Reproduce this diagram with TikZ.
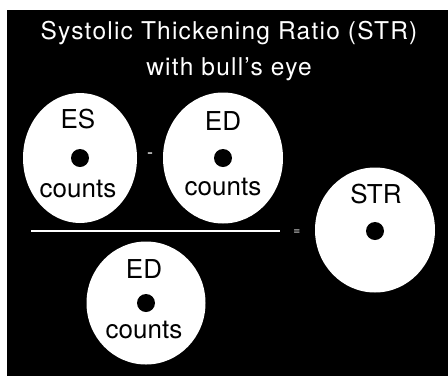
\documentclass[tikz,border=0pt]{standalone}
\usepackage{fontspec}
\setmainfont{TeX Gyre Heros}
\usetikzlibrary{shapes.geometric,positioning,calc}

\begin{document}
\begin{tikzpicture}[
  x=1pt, y=-1pt,
  disc/.style={ellipse, fill=white, inner sep=0pt},
  eye/.style={circle, fill=black, inner sep=0pt, minimum size=18pt},
  lbl/.style={anchor=base, inner sep=0pt, text=black,
    font=\fontsize{26}{28}\selectfont},
  ttl/.style={anchor=base, inner sep=0pt, text=white,
    font=\fontsize{24.5}{28}\selectfont\addfontfeature{LetterSpace=5}},
  op/.style={inner sep=0pt, text=white},
  bar/.style={draw=white, line width=1.6pt}
]

% ---------- FRAME ----------
\useasboundingbox (0,0) rectangle (448,376);
\fill[white] (0,0) rectangle (448,376);
\fill[black] (7,10) rectangle (448,376);

% ---------- TITLE ----------
\node[ttl] (title)    at (229,39) {Systolic Thickening Ratio (STR)};
\node[ttl] (subtitle) at (229,75) {with bull's eye};

% ---------- DISCS ----------
\node[disc, minimum width=114pt, minimum height=130pt] (es)    at (80,158)  {};
\node[disc, minimum width=120pt, minimum height=131pt] (edtop) at (223,158) {};
\node[disc, minimum width=120pt, minimum height=125pt] (str)   at (375,230) {};
\node[disc, minimum width=119pt, minimum height=123pt] (edbot) at (146,303) {};

% ES counts
\node[lbl] (esname)  at ($(es)+(-2,-30)$) {ES};
\node[eye] (esdot)   at (es) {};
\node[lbl] (escount) at ($(es)+(-2,39)$) {counts};

% ED counts (numerator)
\node[lbl] (edtopname)  at ($(edtop)+(0,-28)$) {ED};
\node[eye] (edtopdot)   at (edtop) {};
\node[lbl] (edtopcount) at ($(edtop)+(0,37)$) {counts};

% ED counts (denominator)
\node[lbl] (edbotname)  at ($(edbot)+(-2,-25)$) {ED};
\node[eye] (edbotdot)   at (edbot) {};
\node[lbl] (edbotcount) at ($(edbot)+(-2,35)$) {counts};

% STR
\node[lbl] (strname) at ($(str)+(1,-27)$) {STR};
\node[eye] (strdot)  at ($(str)+(0,1)$) {};

% ---------- OPERATORS ----------
\node[op, font=\fontsize{18}{20}\selectfont] (minus)  at (150,156) {-};
\node[op, font=\fontsize{12}{14}\selectfont] (equals) at (297,232) {=};

\coordinate (barL) at (31,231);
\coordinate (barR) at (280,231);
\draw[bar] (barL) -- (barR);

\end{tikzpicture}
\end{document}
